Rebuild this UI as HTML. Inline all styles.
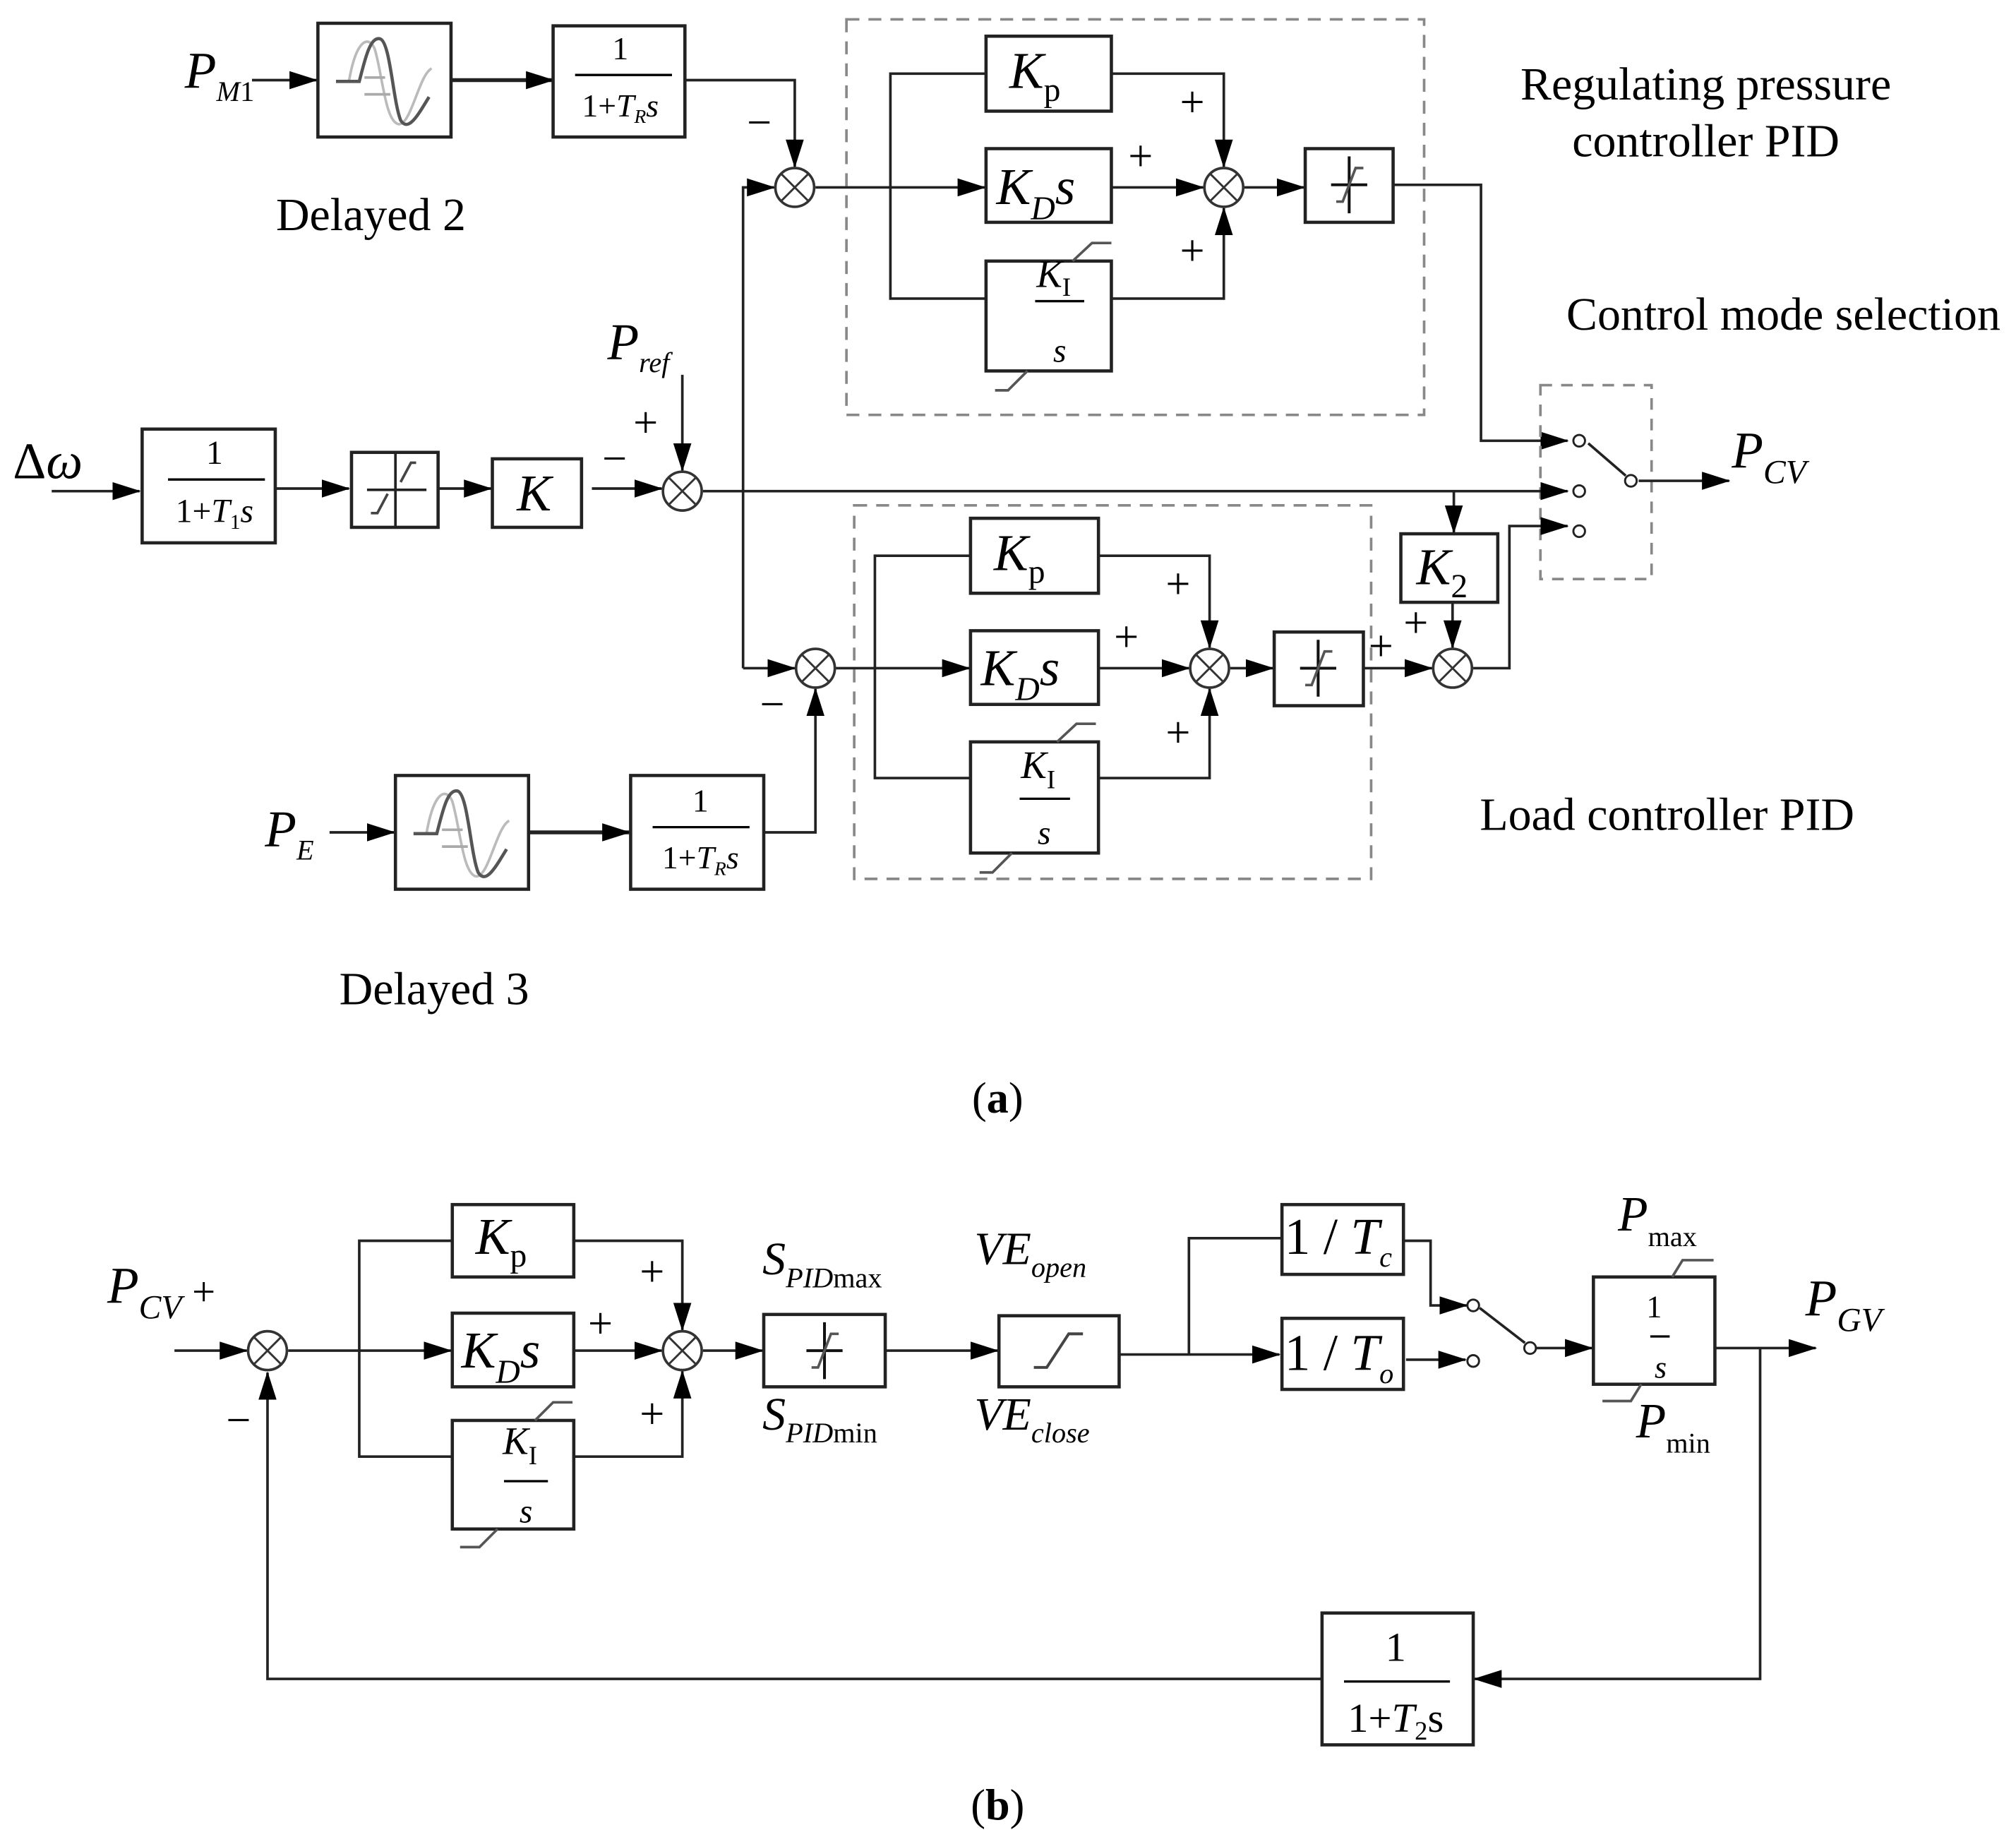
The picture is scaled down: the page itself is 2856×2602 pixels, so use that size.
<!DOCTYPE html>
<html><head><meta charset="utf-8"><style>
html,body{margin:0;padding:0;background:#fff;}
svg{display:block;}
text{font-family:"Liberation Serif",serif;fill:#000;}
.i{font-style:italic;}
</style></head><body>
<svg width="2856" height="2602" viewBox="0 0 1560 1421.3" preserveAspectRatio="none" xmlns="http://www.w3.org/2000/svg">
<defs>
<marker id="a" markerUnits="userSpaceOnUse" markerWidth="22" markerHeight="14" refX="21" refY="7" orient="auto"><path d="M0,0 L22,7 L0,14 z" fill="#000"/></marker>
<g id="sum"><circle r="15" fill="#fff" stroke="#333" stroke-width="2"/><path d="M-10.6,-10.6 L10.6,10.6 M-10.6,10.6 L10.6,-10.6" stroke="#333" stroke-width="1.6"/></g>
<g id="sat"><path d="M0,-22 V22 M-14,0 H14" stroke="#111" stroke-width="2.2"/><path d="M-10,13 L-5,13 L5,-13 L11,-13" stroke="#555" stroke-width="2" fill="none"/></g>
<g id="delay"><rect x="0" y="0" width="103" height="88" fill="#fff" stroke="#222" stroke-width="2.5"/>
<path d="M14,45 L24,45 C30,10 40,10 44,20 C50,40 52,75 62,78 C72,80 78,40 88,35" stroke="#bbb" stroke-width="2" fill="none"/>
<path d="M14,45 L32,45 C36,30 40,10 48,12 C56,14 58,60 64,75 C70,85 78,70 86,57" stroke="#555" stroke-width="2.5" fill="none"/>
<path d="M36,42 H52 M36,55 H56" stroke="#aaa" stroke-width="2"/></g>
</defs>
<g stroke="#222" stroke-width="2" fill="none">
<path d="M195,62 H245" marker-end="url(#a)"/>
<path d="M349,62 H428" stroke-width="3" marker-end="url(#a)"/>
<path d="M530,62 H615 V129" marker-end="url(#a)"/>
<rect x="428" y="20" width="102" height="86" stroke-width="2.5"/>
<path d="M575,517 V145 H599" marker-end="url(#a)"/>
<rect x="655" y="15" width="447" height="306" stroke="#888" stroke-dasharray="10,7"/>
<path d="M631,145 H762" marker-end="url(#a)"/>
<path d="M763,57 H689 V231 H763"/>
<rect x="763" y="28" width="97" height="58" stroke-width="2.5"/>
<rect x="763" y="115" width="97" height="57" stroke-width="2.5"/>
<rect x="763" y="202" width="97" height="85" stroke-width="2.5"/>
<path d="M830,202 L845,188 H860 M795,287 L780,302 H770" stroke="#555"/>
<path d="M860,57 H947 V129" marker-end="url(#a)"/>
<path d="M860,145 H931" marker-end="url(#a)"/>
<path d="M860,231 H947 V161" marker-end="url(#a)"/>
<path d="M963,145 H1009" marker-end="url(#a)"/>
<rect x="1010" y="115" width="68" height="57" stroke-width="2.5"/>
<path d="M1078,143 H1146 V341 H1213" marker-end="url(#a)"/>
<rect x="1192" y="298" width="86" height="150" stroke="#888" stroke-dasharray="9,7"/>
<path d="M1229,343 L1258,368"/>
<path d="M1268,372 H1338" marker-end="url(#a)"/>
<path d="M40,380 H108" marker-end="url(#a)"/>
<rect x="110" y="332" width="103" height="88" stroke-width="2.5"/>
<path d="M213,378 H270" marker-end="url(#a)"/>
<rect x="272" y="350" width="67" height="58" stroke-width="2.5"/>
<path d="M306,350 V408 M284,379 H330" />
<path d="M287,397 H292 L300,382 M310,373 L318,358 H322" stroke="#444"/>
<path d="M339,378 H380" marker-end="url(#a)"/>
<rect x="381" y="355" width="69" height="53" stroke-width="2.5"/>
<path d="M458,378 H512" marker-end="url(#a)"/>
<path d="M528,290 V364" marker-end="url(#a)"/>
<path d="M544,380 H1213" marker-end="url(#a)"/>
<path d="M1125,380 V412" marker-end="url(#a)"/>
<rect x="1084" y="413" width="75" height="53" stroke-width="2.5"/>
<path d="M575,517 H615" marker-end="url(#a)"/>
<rect x="661" y="391" width="400" height="289" stroke="#888" stroke-dasharray="10,7"/>
<path d="M647,517 H750" marker-end="url(#a)"/>
<path d="M751,430 H677 V602 H751"/>
<rect x="751" y="401" width="99" height="58" stroke-width="2.5"/>
<rect x="751" y="488" width="99" height="57" stroke-width="2.5"/>
<rect x="751" y="574" width="99" height="86" stroke-width="2.5"/>
<path d="M818,574 L833,560 H848 M783,660 L768,675 H758" stroke="#555"/>
<path d="M850,430 H936 V501" marker-end="url(#a)"/>
<path d="M850,517 H920" marker-end="url(#a)"/>
<path d="M850,602 H936 V533" marker-end="url(#a)"/>
<path d="M952,517 H985" marker-end="url(#a)"/>
<rect x="986" y="489" width="69" height="57" stroke-width="2.5"/>
<path d="M1055,517 H1108" marker-end="url(#a)"/>
<path d="M1124,466 V501" marker-end="url(#a)"/>
<path d="M1140,517 H1168 V407 H1213" marker-end="url(#a)"/>
<path d="M255,644 H305" marker-end="url(#a)"/>
<path d="M409,644 H487" stroke-width="3" marker-end="url(#a)"/>
<rect x="488" y="600" width="103" height="88" stroke-width="2.5"/>
<path d="M591,644 H631 V533" marker-end="url(#a)"/>
<path d="M135,1045 H191" marker-end="url(#a)"/>
<path d="M223,1045 H349" marker-end="url(#a)"/>
<path d="M350,960 H278 V1127 H350"/>
<rect x="350" y="932" width="94" height="56" stroke-width="2.5"/>
<rect x="350" y="1016" width="94" height="57" stroke-width="2.5"/>
<rect x="350" y="1099" width="94" height="84" stroke-width="2.5"/>
<path d="M414,1099 L428,1085 H443 M385,1183 L371,1197 H356" stroke="#555"/>
<path d="M444,960 H528 V1029" marker-end="url(#a)"/>
<path d="M444,1045 H512" marker-end="url(#a)"/>
<path d="M444,1127 H528 V1061" marker-end="url(#a)"/>
<path d="M544,1045 H590" marker-end="url(#a)"/>
<rect x="591" y="1017" width="94" height="56" stroke-width="2.5"/>
<path d="M685,1045 H772" marker-end="url(#a)"/>
<rect x="773" y="1018" width="93" height="55" stroke-width="2.5"/>
<path d="M800,1058 H810 L827,1032 H838" stroke="#444" stroke-width="2.2"/>
<path d="M866,1048 H990" marker-end="url(#a)"/>
<path d="M920,1048 V958 H992"/>
<rect x="992" y="932" width="94" height="54" stroke-width="2.5"/>
<rect x="992" y="1020" width="94" height="55" stroke-width="2.5"/>
<path d="M1086,960 H1107 V1010 H1135" marker-end="url(#a)"/>
<path d="M1088,1052 H1134" marker-end="url(#a)"/>
<path d="M1145,1012 L1180,1039"/>
<path d="M1188,1043 H1232" marker-end="url(#a)"/>
<rect x="1233" y="988" width="94" height="83" stroke-width="2.5"/>
<path d="M1294,988 L1302,975 H1326 M1270,1071 L1262,1084 H1240" stroke="#555"/>
<path d="M1327,1043 H1405" marker-end="url(#a)"/>
<path d="M1362,1043 V1299 H1141" marker-end="url(#a)"/>
<rect x="1023" y="1248" width="117" height="102" stroke-width="2.5"/>
<path d="M1023,1299 H207 V1062" marker-end="url(#a)"/>
</g>
<g fill="#fff" stroke="#222" stroke-width="1.6">
<circle cx="1222" cy="341" r="4.5"/><circle cx="1222" cy="380" r="4.5"/><circle cx="1222" cy="411" r="4.5"/><circle cx="1262" cy="372" r="4.5"/>
<circle cx="1140" cy="1010" r="4.5"/><circle cx="1140" cy="1053" r="4.5"/><circle cx="1184" cy="1043" r="4.5"/>
</g>
<use href="#sum" x="615" y="145"/><use href="#sum" x="947" y="145"/><use href="#sum" x="528" y="380"/>
<use href="#sum" x="631" y="517"/><use href="#sum" x="936" y="517"/><use href="#sum" x="1124" y="517"/>
<use href="#sum" x="207" y="1045"/><use href="#sum" x="528" y="1045"/>
<use href="#sat" x="1044" y="143"/><use href="#sat" x="1020" y="517"/><use href="#sat" x="638" y="1045"/>
<use href="#delay" x="246" y="18"/><use href="#delay" x="306" y="600"/>
<g stroke="#000" stroke-width="1.8">
<path d="M445,58 H520 M130,371 H205 M505,640 H580 M1040,1301 H1122 M801,233 H839 M789,618 H828 M390,1146 H424 M1277,1034 H1292"/>
</g>
<g font-size="26">
<text x="480" y="46" text-anchor="middle" font-size="25">1</text>
<text x="480" y="90" text-anchor="middle" font-size="25">1+<tspan class="i">T</tspan><tspan class="i" font-size="15" dy="5">R</tspan><tspan class="i" dy="-5">s</tspan></text>
<text x="166" y="359" text-anchor="middle" font-size="26">1</text>
<text x="166" y="404" text-anchor="middle" font-size="26">1+<tspan class="i">T</tspan><tspan font-size="16" dy="5">1</tspan><tspan class="i" dy="-5">s</tspan></text>
<text x="542" y="628" text-anchor="middle" font-size="25">1</text>
<text x="542" y="672" text-anchor="middle" font-size="25">1+<tspan class="i">T</tspan><tspan class="i" font-size="15" dy="5">R</tspan><tspan class="i" dy="-5">s</tspan></text>
<text x="1080" y="1285" text-anchor="middle" font-size="32">1</text>
<text x="1080" y="1340" text-anchor="middle" font-size="32">1+<tspan class="i">T</tspan><tspan font-size="20" dy="6">2</tspan><tspan dy="-6">s</tspan></text>
</g>
<g font-size="40">
<text x="143" y="68" class="i">P<tspan font-size="22" dy="10">M</tspan><tspan font-size="22" font-style="normal">1</tspan></text>
<text x="10" y="370">Δ<tspan class="i">ω</tspan></text>
<text x="470" y="278" class="i">P<tspan font-size="22" dy="10">ref</tspan></text>
<text x="205" y="655" class="i">P<tspan font-size="22" dy="10">E</tspan></text>
<text x="1340" y="362" class="i">P<tspan font-size="26" dy="12">CV</tspan></text>
<text x="781" y="68" class="i">K<tspan font-size="26" font-style="normal" dy="10">p</tspan></text>
<text x="771" y="158" class="i">K<tspan font-size="26" dy="12">D</tspan><tspan dy="-12">s</tspan></text>
<text x="802" y="222" class="i" font-size="30">K<tspan font-size="20" font-style="normal" dy="7">I</tspan></text>
<text x="820" y="280" class="i" font-size="26" text-anchor="middle">s</text>
<text x="400" y="395" class="i">K</text>
<text x="769" y="441" class="i">K<tspan font-size="26" font-style="normal" dy="10">p</tspan></text>
<text x="759" y="530" class="i">K<tspan font-size="26" dy="12">D</tspan><tspan dy="-12">s</tspan></text>
<text x="790" y="602" class="i" font-size="30">K<tspan font-size="20" font-style="normal" dy="8">I</tspan></text>
<text x="808" y="653" class="i" font-size="26" text-anchor="middle">s</text>
<text x="1096" y="452" class="i">K<tspan font-size="26" font-style="normal" dy="10">2</tspan></text>
<text x="83" y="1008" class="i">P<tspan font-size="26" dy="12">CV</tspan><tspan font-style="normal" font-size="32" dy="-10"> +</tspan></text>
<text x="368" y="970" class="i">K<tspan font-size="26" font-style="normal" dy="10">p</tspan></text>
<text x="357" y="1058" class="i">K<tspan font-size="26" dy="12">D</tspan><tspan dy="-12">s</tspan></text>
<text x="389" y="1125" class="i" font-size="30">K<tspan font-size="20" font-style="normal" dy="8">I</tspan></text>
<text x="407" y="1178" class="i" font-size="26" text-anchor="middle">s</text>
<text x="590" y="986" class="i" font-size="36">S<tspan font-size="22" dy="10">PID</tspan><tspan font-style="normal" font-size="22">max</tspan></text>
<text x="590" y="1106" class="i" font-size="36">S<tspan font-size="22" dy="10">PID</tspan><tspan font-style="normal" font-size="22">min</tspan></text>
<text x="754" y="978" class="i" font-size="36">VE<tspan font-size="22" dy="10">open</tspan></text>
<text x="754" y="1106" class="i" font-size="36">VE<tspan font-size="22" dy="10">close</tspan></text>
<text x="994" y="970">1 / <tspan class="i">T</tspan><tspan class="i" font-size="22" dy="10">c</tspan></text>
<text x="994" y="1060">1 / <tspan class="i">T</tspan><tspan class="i" font-size="22" dy="10">o</tspan></text>
<text x="1280" y="1019" font-size="24" text-anchor="middle">1</text>
<text x="1285" y="1066" class="i" font-size="24" text-anchor="middle">s</text>
<text x="1252" y="952" class="i" font-size="38">P<tspan font-style="normal" font-size="22" dy="12">max</tspan></text>
<text x="1266" y="1112" class="i" font-size="38">P<tspan font-style="normal" font-size="22" dy="12">min</tspan></text>
<text x="1397" y="1018" class="i">P<tspan font-size="26" dy="12">GV</tspan></text>
</g>
<g font-size="34">
<text x="913" y="90">+</text><text x="873" y="132">+</text><text x="913" y="205">+</text>
<text x="578" y="106">−</text><text x="490" y="338">+</text><text x="466" y="366">−</text>
<text x="902" y="463">+</text><text x="862" y="504">+</text><text x="902" y="578">+</text>
<text x="1059" y="511">+</text><text x="1086" y="493">+</text><text x="588" y="556">−</text>
<text x="495" y="995">+</text><text x="455" y="1035">+</text><text x="495" y="1105">+</text>
<text x="175" y="1110">−</text>
</g>
<g font-size="36">
<text x="1320" y="77" text-anchor="middle">Regulating pressure</text>
<text x="1320" y="121" text-anchor="middle">controller PID</text>
<text x="1380" y="255" text-anchor="middle">Control mode selection</text>
<text x="287" y="178" text-anchor="middle">Delayed 2</text>
<text x="1290" y="642" text-anchor="middle">Load controller PID</text>
<text x="336" y="777" text-anchor="middle">Delayed 3</text>
<text x="772" y="861" text-anchor="middle" font-size="34">(<tspan font-weight="bold">a</tspan>)</text>
<text x="772" y="1408" text-anchor="middle" font-size="34">(<tspan font-weight="bold">b</tspan>)</text>
</g>
</svg>
</body></html>
